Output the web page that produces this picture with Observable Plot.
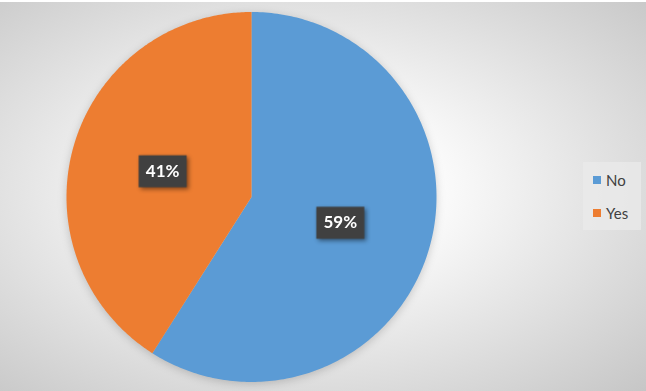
<!DOCTYPE html>
<html><head><meta charset="utf-8">
<script src="https://cdn.jsdelivr.net/npm/d3@7"></script>
<script src="https://cdn.jsdelivr.net/npm/@observablehq/plot@0.6"></script>
<style>
html,body{margin:0;padding:0;}
body{width:646px;height:391px;overflow:hidden;}
#chart{position:relative;width:646px;height:391px;
  background: linear-gradient(#ffffff,#ffffff) top/100% 2px no-repeat,
              radial-gradient(ellipse farthest-corner at 47% 48%, #ffffff 0%, #fbfbfb 28%, #c6c6c6 100%);}
#chart svg{position:absolute;left:0;top:0;}
#legend{position:absolute;left:583px;top:162px;width:58px;height:68px;background:rgba(235,235,235,0.7);
  font-family:Lato,"Open Sans",sans-serif;font-size:15px;color:#404040;}
.item{position:absolute;left:10px;display:flex;align-items:center;}
.sw{width:8px;height:8px;margin-right:5px;}
</style></head>
<body><div id="chart"><div id="legend"></div></div>
<script>
const categories = ["No", "Yes"];
const values = [59, 41];
const labels = ["59%", "41%"];
const colors = ["#5B9BD5", "#ED7D31"];

const rows = categories.map((c, i) => ({category: c, value: values[i], label: labels[i]}));
const arcs = d3.pie().sort(null).value(d => d.value)(rows);

const pts = [];
for (const a of arcs) {
  const n = 240;
  pts.push({category: a.data.category, x: 0, y: 0});
  for (let k = 0; k <= n; k++) {
    const t = a.startAngle + (a.endAngle - a.startAngle) * k / n;
    pts.push({category: a.data.category, x: Math.sin(t), y: Math.cos(t)});
  }
}
const lab = arcs.map(a => {
  const m = (a.startAngle + a.endAngle) / 2;
  return {x: 0.5 * Math.sin(m), y: 0.5 * Math.cos(m), label: a.data.label};
});

const boxSymbol = {draw(ctx) { ctx.rect(-24, -16, 48, 32); }};

const plot = Plot.plot({
  width: 646, height: 391, margin: 0,
  x: {domain: [-1, 1], range: [66, 436], axis: null},
  y: {domain: [-1, 1], range: [381.5, 11.5], axis: null},
  color: {domain: categories, range: colors},
  style: {background: "transparent", overflow: "visible"},
  marks: [
    Plot.line(pts, {x: "x", y: "y", z: "category", fill: "category", stroke: null, imageFilter: "drop-shadow(0px 2px 4px rgba(0,0,0,0.18))"}),
    Plot.dot(lab, {x: "x", y: "y", symbol: boxSymbol, r: 10, fill: "#404040", stroke: null, imageFilter: "drop-shadow(2px 2px 2px rgba(0,0,0,0.45))"}),
    Plot.text(lab, {x: "x", y: "y", text: "label", fill: "white", fontSize: 17, fontWeight: "bold", fontFamily: "Lato, 'Open Sans', sans-serif"})
  ]
});
document.getElementById("chart").appendChild(plot);

const legend = document.getElementById("legend");
categories.forEach((c, i) => {
  const it = document.createElement("div");
  it.className = "item";
  it.style.top = (i === 0 ? 9 : 42) + "px";
  it.innerHTML = `<span class="sw" style="background:${colors[i]}"></span><span>${c}</span>`;
  legend.appendChild(it);
});
</script>
</body></html>
